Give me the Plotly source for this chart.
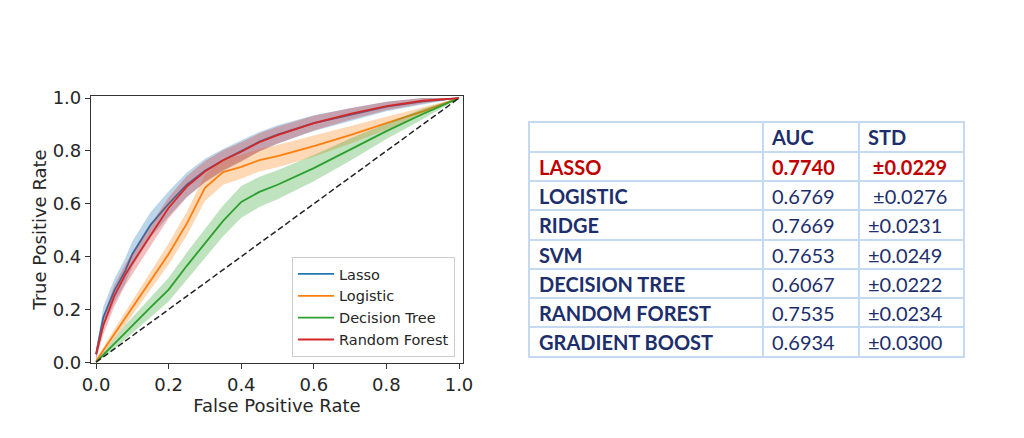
import plotly.graph_objects as go

# ROC curves (mean +/- std)
fpr = [0, 0.02, 0.05, 0.08, 0.1, 0.15, 0.2, 0.25, 0.3, 0.35, 0.4, 0.45, 0.5, 0.6, 0.7, 0.8, 0.9, 1.0]

lasso_tpr = [0.03, 0.17, 0.27, 0.345, 0.41, 0.52, 0.60, 0.672, 0.725, 0.765, 0.80, 0.835, 0.862, 0.905, 0.937, 0.968, 0.988, 1.0]
lasso_std = [0.02, 0.04, 0.045, 0.048, 0.048, 0.048, 0.047, 0.046, 0.045, 0.042, 0.04, 0.037, 0.035, 0.03, 0.025, 0.018, 0.012, 0.0]

logistic_tpr = [0.005, 0.045, 0.105, 0.165, 0.205, 0.31, 0.41, 0.525, 0.66, 0.72, 0.74, 0.765, 0.78, 0.818, 0.86, 0.905, 0.95, 1.0]
logistic_std = [0.005, 0.012, 0.02, 0.025, 0.028, 0.035, 0.04, 0.045, 0.05, 0.048, 0.045, 0.043, 0.042, 0.04, 0.033, 0.025, 0.015, 0.0]

dtree_tpr = [0.0, 0.028, 0.07, 0.113, 0.14, 0.208, 0.275, 0.365, 0.45, 0.535, 0.607, 0.645, 0.672, 0.735, 0.805, 0.875, 0.94, 1.0]
dtree_std = [0.003, 0.01, 0.02, 0.027, 0.03, 0.038, 0.045, 0.05, 0.055, 0.058, 0.06, 0.057, 0.055, 0.05, 0.042, 0.03, 0.02, 0.0]

rf_tpr = [0.03, 0.14, 0.25, 0.33, 0.375, 0.48, 0.585, 0.665, 0.722, 0.765, 0.797, 0.833, 0.86, 0.905, 0.94, 0.97, 0.99, 1.0]
rf_std = [0.02, 0.035, 0.04, 0.04, 0.04, 0.04, 0.04, 0.04, 0.04, 0.038, 0.036, 0.034, 0.032, 0.028, 0.022, 0.016, 0.01, 0.0]

# AUC table
encabezado = ["", "AUC", "STD"]
modelos = ["LASSO", "LOGISTIC", "RIDGE", "SVM", "DECISION TREE", "RANDOM FOREST", "GRADIENT BOOST"]
auc = ["0.7740", "0.6769", "0.7669", "0.7653", "0.6067", "0.7535", "0.6934"]
std = ["\u00a0±0.0229", "\u00a0±0.0276", "±0.0231", "±0.0249", "±0.0222", "±0.0234", "±0.0300"]

series = [
    ("Lasso", lasso_tpr, lasso_std, "31,119,180"),
    ("Logistic", logistic_tpr, logistic_std, "255,127,14"),
    ("Decision Tree", dtree_tpr, dtree_std, "44,160,44"),
    ("Random Forest", rf_tpr, rf_std, "214,39,40"),
]

W, H, OFF = 1024, 438, 8  # la página añade ~8px de margen al body


def px_x(p):
    return (p - OFF) / W


def px_y(p):
    return 1 - (p - OFF) / H


fig = go.Figure()

for nombre, tpr, sd, rgb in series:
    upper = [min(t + s, 1.0) for t, s in zip(tpr, sd)]
    lower = [max(t - s, 0.0) for t, s in zip(tpr, sd)]
    fig.add_trace(go.Scatter(x=fpr + fpr[::-1], y=upper + lower[::-1], fill="toself",
                             fillcolor=f"rgba({rgb},0.3)", line=dict(width=0),
                             hoverinfo="skip", showlegend=False))
    fig.add_trace(go.Scatter(x=fpr, y=tpr, mode="lines", name=nombre,
                             line=dict(color=f"rgb({rgb})", width=1.8)))

# Diagonal de referencia
fig.add_trace(go.Scatter(x=[0, 1], y=[0, 1], mode="lines", showlegend=False,
                         line=dict(color="#222222", width=1.5, dash="6px,3px")))

# Tabla de resultados (texto sobre un segundo par de ejes)
navy = "#1c2e6b"
rojo = "#c00000"
bordes_col = [0, 233, 329, 433]  # anchos de columna en px
pad = 9

tx, ty, tt, tc = [], [], [], []
for c, h in enumerate(encabezado):
    if h:
        tx.append(bordes_col[c] + pad); ty.append(0.6); tt.append(f"<b>{h}</b>"); tc.append(navy)
for r, (m, a, s) in enumerate(zip(modelos, auc, std)):
    color = rojo if r == 0 else navy
    for c, v in enumerate([m, a, s]):
        texto = f"<b>{v}</b>" if (c == 0 or r == 0) else v
        tx.append(bordes_col[c] + pad); ty.append(r + 1.62); tt.append(texto); tc.append(color)

fig.add_trace(go.Scatter(x=tx, y=ty, text=tt, mode="text", textposition="middle right",
                         textfont=dict(family="Lato", size=20, color=tc),
                         xaxis="x2", yaxis="y2", showlegend=False, hoverinfo="skip"))

eje = dict(showline=True, mirror=True, linecolor="#333333", linewidth=1.2, automargin=False,
           ticks="outside", ticklen=5, tickcolor="#333333", showgrid=False, zeroline=False,
           tickvals=[0, 0.2, 0.4, 0.6, 0.8, 1.0], tickformat=".1f",
           tickfont=dict(family="DejaVu Sans", size=18, color="#262626"))

borde_tabla = "#c5d9f1"
fig.update_layout(
    width=W, height=H,
    margin=dict(l=0, r=0, t=0, b=0),
    paper_bgcolor="white", plot_bgcolor="white",
    font=dict(family="DejaVu Sans", color="#262626"),
    xaxis=dict(eje, domain=[px_x(91), px_x(463)], range=[-0.014, 1.011],
               title=dict(text="False Positive Rate", font=dict(size=18), standoff=0)),
    yaxis=dict(eje, domain=[px_y(363), px_y(96)], range=[-0.003, 1.008],
               title=dict(text="True Positive Rate", font=dict(size=18), standoff=1)),
    xaxis2=dict(domain=[px_x(530), px_x(963)], range=[0, bordes_col[-1]], anchor="y2",
                tickvals=bordes_col, showticklabels=False, ticks="", showgrid=True,
                gridcolor=borde_tabla, gridwidth=1.5, zeroline=False, automargin=False,
                showline=True, mirror=True, linecolor=borde_tabla, linewidth=1.5, fixedrange=True),
    yaxis2=dict(domain=[px_y(356), px_y(123)], range=[len(modelos) + 1, 0], anchor="x2",
                tickvals=list(range(len(modelos) + 2)), showticklabels=False, ticks="", showgrid=True,
                gridcolor=borde_tabla, gridwidth=1.5, zeroline=False, automargin=False,
                showline=True, mirror=True, linecolor=borde_tabla, linewidth=1.5, fixedrange=True),
    legend=dict(x=px_x(455), y=px_y(357), xanchor="right", yanchor="bottom",
                bordercolor="#cccccc", borderwidth=1, bgcolor="rgba(255,255,255,0.8)",
                font=dict(family="DejaVu Sans", size=14.5, color="#262626"),
                tracegroupgap=0, itemwidth=36),
    showlegend=True,
)

fig.write_html("out.html")
